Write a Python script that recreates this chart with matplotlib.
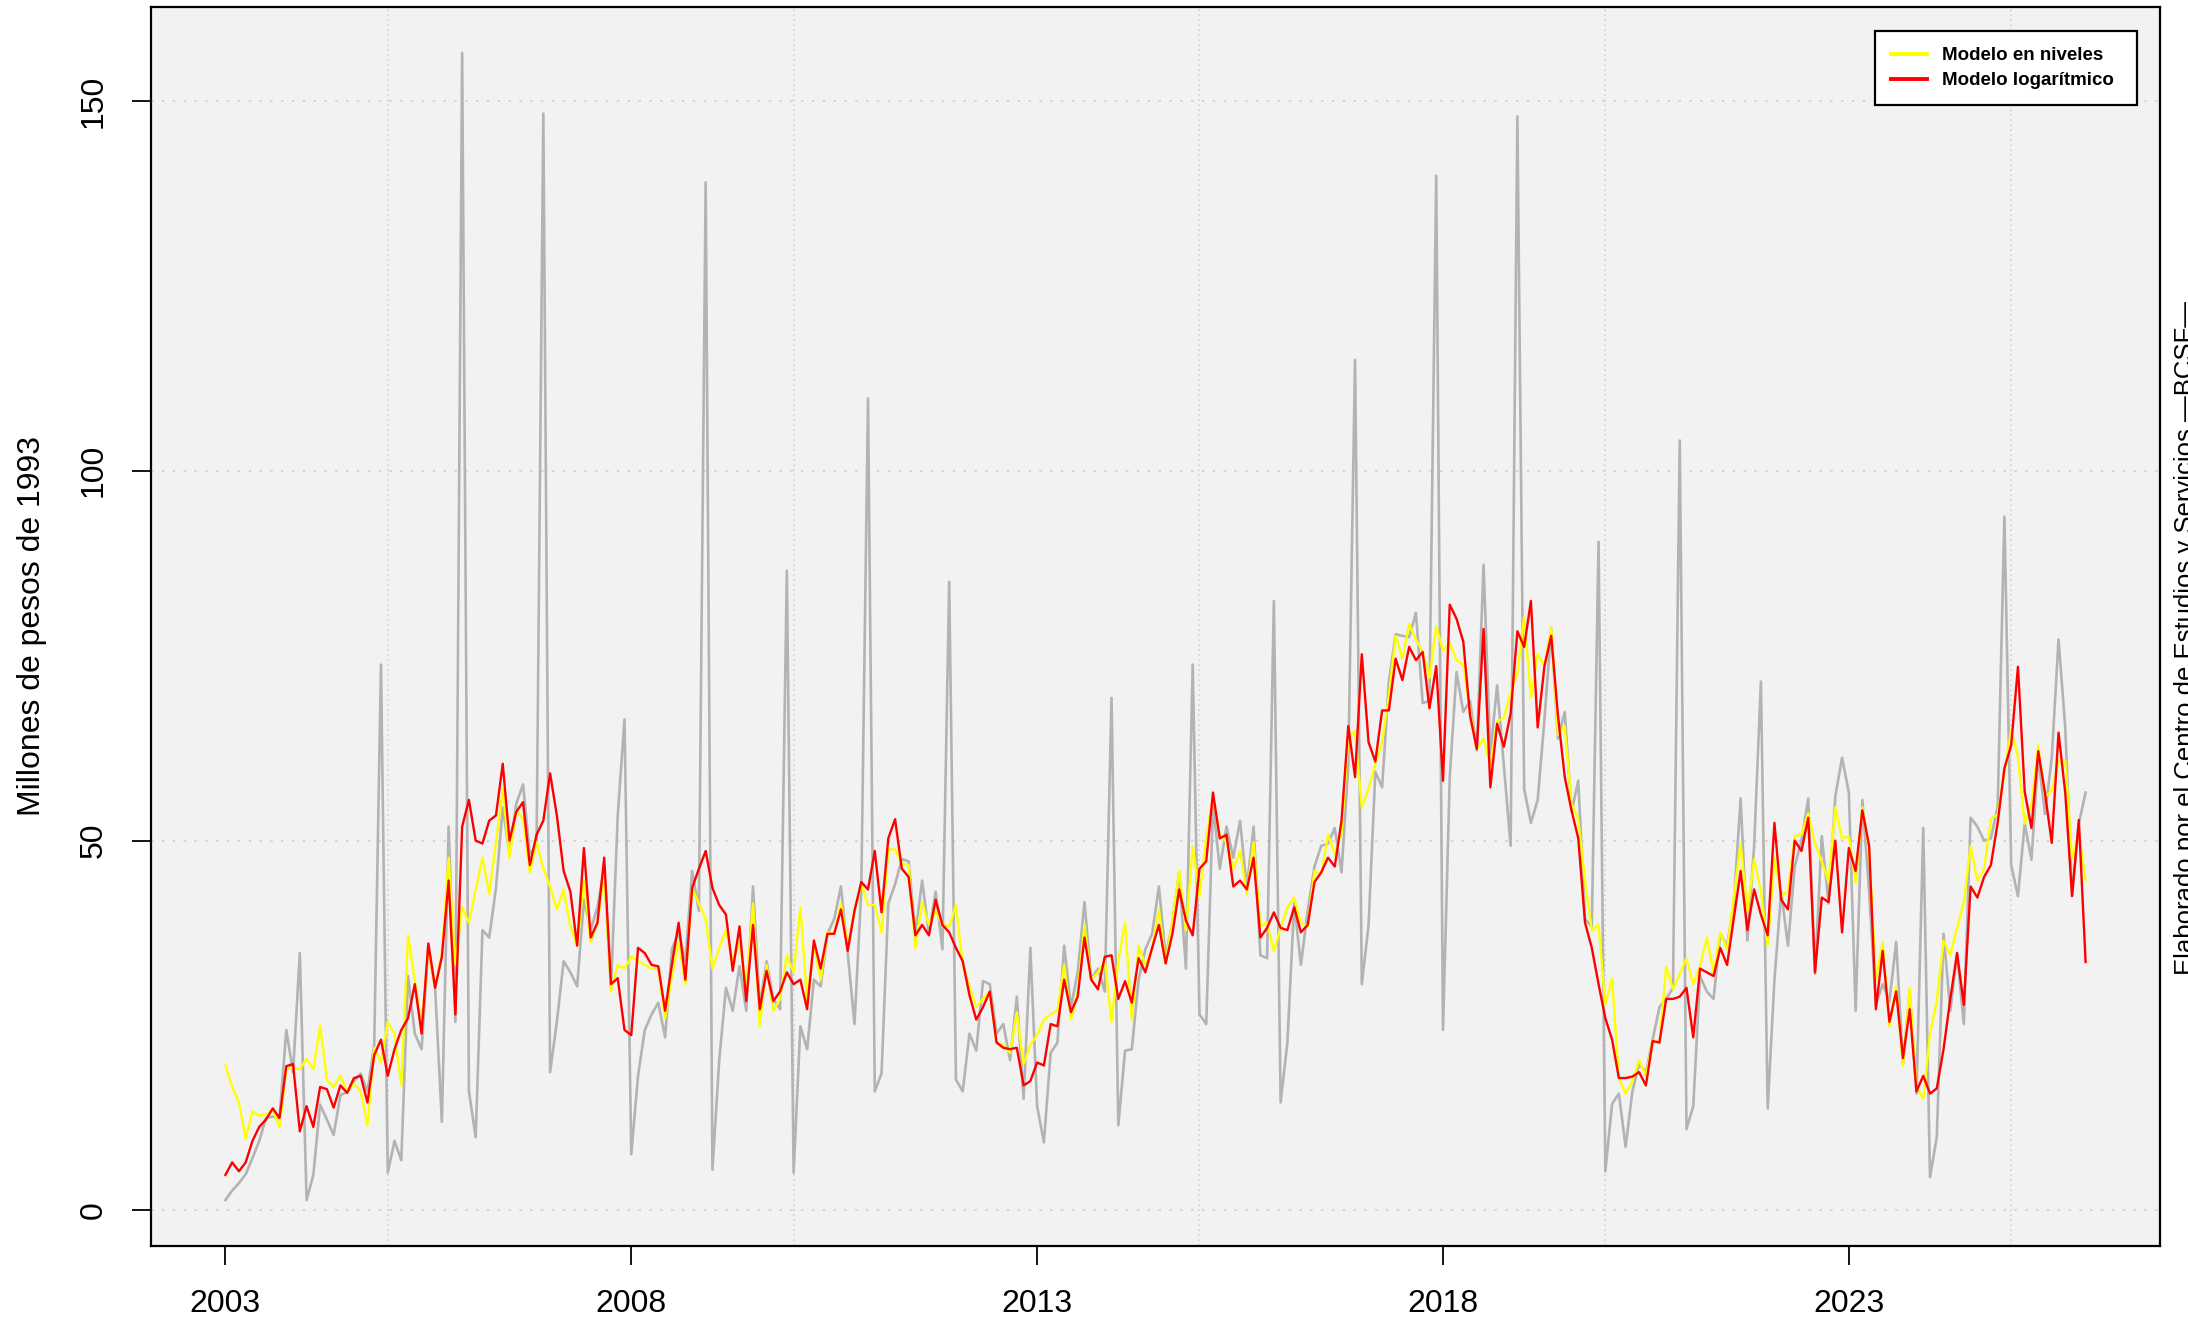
import numpy as np
import matplotlib
matplotlib.use("Agg")
import matplotlib.pyplot as plt

# ---------------- data (monthly, starting January 2003) ----------------
start_year = 2003

observado = [
    1.4, 2.7, 3.7, 4.9, 7.1, 9.4, 12.5, 12.7, 12.5, 24.4, 18.7, 34.8,
    1.4, 4.8, 14.3, 12.3, 10.2, 15.6, 16.0, 17.5, 18.5, 16.1, 22.4, 73.8,
    5.1, 9.4, 6.8, 31.7, 23.9, 21.8, 35.8, 30.1, 12.0, 51.9, 25.5, 156.5,
    16.1, 9.9, 37.9, 36.9, 43.6, 54.5, 48.2, 55.0, 57.6, 48.2, 49.3, 148.3,
    18.7, 25.5, 33.7, 32.2, 30.3, 42.0, 37.9, 41.0, 46.2, 30.1, 53.4, 66.4,
    7.6, 18.2, 24.4, 26.5, 28.1, 23.4, 35.3, 37.6, 33.7, 45.9, 40.5, 139.0,
    5.5, 20.3, 30.1, 27.0, 33.0, 27.0, 43.8, 27.5, 33.7, 28.6, 27.2, 86.5,
    5.1, 24.9, 21.8, 31.2, 30.3, 37.4, 39.4, 43.8, 34.8, 25.2, 43.1, 109.8,
    16.1, 18.5, 41.5, 44.1, 47.5, 47.2, 37.4, 44.6, 37.4, 43.1, 35.3, 85.0,
    17.7, 16.1, 23.9, 21.6, 31.0, 30.6, 23.9, 25.2, 20.3, 28.9, 15.1, 35.5,
    14.1, 9.2, 21.3, 22.7, 35.8, 27.5, 32.2, 41.7, 31.2, 32.7, 29.6, 69.3,
    11.5, 21.6, 21.8, 31.2, 35.3, 37.4, 43.8, 34.3, 38.9, 45.7, 32.7, 73.8,
    26.5, 25.2, 55.0, 46.2, 51.9, 47.7, 52.7, 43.6, 51.9, 34.5, 34.1, 82.4,
    14.6, 22.7, 41.5, 33.2, 40.5, 46.5, 49.3, 49.6, 51.7, 45.7, 60.1, 115.0,
    30.6, 38.6, 59.3, 57.2, 71.5, 77.9, 77.7, 77.5, 80.8, 68.6, 68.9, 139.9,
    24.4, 58.6, 72.8, 67.4, 68.9, 62.2, 87.3, 61.7, 71.0, 60.1, 49.3, 147.9,
    57.0, 52.4, 55.5, 66.4, 78.8, 63.8, 67.4, 53.9, 58.1, 39.4, 38.4, 90.4,
    5.3, 14.4, 15.8, 8.6, 16.1, 19.8, 18.7, 23.1, 27.5, 28.6, 30.1, 104.1,
    11.0, 14.1, 31.7, 29.6, 28.6, 37.4, 35.8, 41.5, 55.7, 36.5, 49.3, 71.5,
    13.8, 31.2, 43.1, 35.8, 46.5, 50.0, 55.7, 32.0, 50.6, 41.5, 56.0, 61.2,
    56.5, 27.0, 55.5, 43.1, 27.8, 30.6, 28.3, 36.3, 19.8, 29.6, 15.8, 51.7,
    4.5, 9.9, 37.4, 27.0, 34.8, 25.2, 53.1, 51.9, 50.0, 50.3, 54.6, 93.8,
    46.7, 42.5, 52.3, 47.4, 61.4, 53.6, 61.2, 77.2, 65.2, 42.6, 52.3, 56.5,
]

modelo_niveles = [
    19.6, 16.7, 14.6, 9.7, 13.4, 12.8, 13.0, 13.6, 11.3, 19.1, 19.3, 19.1,
    20.5, 19.1, 25.0, 17.7, 16.7, 18.2, 16.1, 17.2, 16.1, 11.5, 22.0, 20.0,
    25.5, 23.9, 16.9, 37.2, 31.1, 24.8, 35.3, 30.1, 34.7, 47.7, 33.3, 41.0,
    38.9, 43.4, 47.7, 42.8, 49.8, 57.0, 47.7, 54.1, 52.9, 45.7, 49.8, 46.2,
    43.8, 40.7, 43.4, 38.4, 35.8, 44.6, 36.3, 38.9, 45.7, 29.6, 33.2, 32.7,
    34.3, 33.7, 33.2, 32.7, 32.7, 26.0, 31.7, 36.3, 30.6, 43.6, 41.5, 39.4,
    32.7, 35.5, 37.9, 33.7, 36.3, 30.1, 41.5, 24.9, 33.2, 27.0, 28.6, 34.5,
    32.2, 41.0, 28.3, 35.8, 31.2, 37.6, 37.4, 41.5, 35.8, 40.5, 44.1, 41.3,
    41.3, 37.6, 48.8, 48.8, 46.9, 46.7, 35.5, 41.7, 38.6, 40.5, 38.6, 38.4,
    41.3, 33.2, 30.3, 27.5, 28.6, 29.6, 22.7, 22.4, 21.3, 26.8, 19.8, 22.4,
    23.7, 25.8, 26.5, 27.0, 33.2, 25.8, 29.6, 38.6, 31.2, 32.2, 33.7, 25.5,
    33.7, 38.9, 25.8, 35.8, 33.2, 35.3, 40.7, 33.4, 39.2, 45.9, 37.9, 49.3,
    42.5, 50.3, 56.0, 50.8, 49.8, 46.2, 48.6, 42.8, 49.8, 38.4, 38.9, 35.1,
    38.2, 41.0, 42.3, 38.9, 38.4, 45.9, 45.4, 50.8, 48.2, 51.0, 63.8, 64.8,
    54.5, 57.0, 60.4, 63.3, 69.5, 77.7, 74.6, 79.3, 77.2, 75.5, 72.0, 79.0,
    75.7, 76.7, 74.4, 73.8, 67.4, 62.4, 63.8, 60.1, 66.1, 66.6, 70.0, 72.6,
    80.3, 69.3, 75.2, 73.6, 78.8, 64.3, 65.5, 55.0, 52.9, 44.6, 37.9, 38.6,
    27.8, 31.4, 17.9, 15.8, 17.5, 20.3, 18.2, 22.9, 22.7, 33.0, 29.9, 32.0,
    34.1, 30.6, 33.0, 36.9, 32.2, 37.6, 35.3, 42.5, 49.6, 40.5, 47.5, 43.1,
    35.8, 47.7, 42.5, 43.1, 50.6, 50.8, 53.7, 49.6, 47.2, 44.4, 54.5, 50.3,
    50.6, 44.4, 54.5, 48.8, 31.2, 36.3, 24.9, 30.3, 19.6, 30.1, 16.7, 15.1,
    23.9, 28.3, 36.5, 34.5, 38.2, 41.7, 49.3, 44.6, 46.2, 52.9, 53.5, 59.1,
    65.0, 61.4, 52.3, 54.8, 62.9, 55.9, 56.8, 60.7, 60.9, 47.6, 50.8, 44.7,
]

modelo_log = [
    4.8, 6.5, 5.3, 6.5, 9.4, 11.3, 12.3, 13.8, 12.5, 19.5, 19.8, 10.7,
    14.1, 11.3, 16.7, 16.4, 13.9, 16.9, 15.9, 17.9, 18.2, 14.6, 21.0, 23.1,
    18.2, 21.8, 24.4, 26.0, 30.6, 23.9, 36.1, 30.1, 34.3, 44.6, 26.5, 51.9,
    55.5, 50.0, 49.6, 52.7, 53.4, 60.4, 50.0, 53.9, 55.2, 46.7, 50.8, 52.7,
    59.1, 53.4, 45.9, 43.1, 35.8, 49.0, 36.9, 38.9, 47.7, 30.6, 31.4, 24.4,
    23.7, 35.5, 34.8, 33.2, 33.0, 27.0, 33.2, 38.9, 31.2, 43.6, 46.2, 48.6,
    43.6, 41.3, 40.0, 32.4, 38.4, 28.3, 38.6, 27.2, 32.4, 28.3, 29.6, 32.2,
    30.6, 31.2, 27.2, 36.5, 32.7, 37.4, 37.4, 40.7, 35.1, 40.5, 44.4, 43.4,
    48.6, 40.3, 50.3, 52.9, 46.2, 45.1, 37.2, 38.6, 37.2, 42.0, 38.6, 37.6,
    35.5, 33.7, 29.1, 25.8, 27.5, 29.6, 22.7, 22.0, 21.8, 22.0, 16.9, 17.5,
    20.0, 19.6, 25.2, 24.9, 31.2, 26.8, 28.9, 36.9, 31.2, 29.9, 34.3, 34.5,
    28.6, 31.0, 28.1, 34.1, 32.2, 35.5, 38.6, 33.4, 37.4, 43.4, 39.2, 37.2,
    46.2, 47.2, 56.5, 50.3, 50.8, 43.8, 44.6, 43.4, 47.7, 36.9, 38.2, 40.3,
    38.2, 37.9, 41.0, 37.6, 38.6, 44.4, 45.7, 47.7, 46.5, 52.7, 65.5, 58.6,
    75.2, 63.3, 60.7, 67.6, 67.6, 74.6, 71.7, 76.2, 74.4, 75.5, 67.9, 73.6,
    58.1, 81.9, 80.0, 76.9, 66.9, 62.4, 78.6, 57.2, 65.8, 62.7, 67.2, 78.3,
    76.2, 82.4, 65.3, 73.6, 77.7, 66.9, 58.6, 54.1, 50.3, 38.9, 35.5, 30.6,
    26.0, 23.1, 17.9, 17.9, 18.1, 18.7, 16.9, 22.9, 22.7, 28.6, 28.6, 28.9,
    30.1, 23.4, 32.7, 32.2, 31.7, 35.5, 33.2, 39.6, 45.9, 37.9, 43.4, 40.0,
    37.2, 52.4, 42.0, 40.7, 50.0, 48.6, 53.1, 32.2, 42.3, 41.7, 50.0, 37.6,
    49.0, 45.9, 54.1, 49.3, 27.2, 35.1, 25.5, 29.6, 20.6, 27.2, 16.1, 18.2,
    15.8, 16.5, 21.8, 28.6, 34.8, 27.8, 43.8, 42.3, 45.1, 46.7, 52.4, 59.8,
    62.9, 73.5, 56.6, 51.7, 62.1, 56.4, 49.7, 64.6, 56.4, 42.5, 52.8, 33.6,
]

tick_years = [2003, 2008, 2013, 2018, 2023]
grid_years = [2005, 2010, 2015, 2020, 2025]
y_ticks = [0, 50, 100, 150]
serie_labels = ["Modelo en niveles", "Modelo logarítmico"]
y_label = "Millones de pesos de 1993"
credit = "Elaborado por el Centro de Estudios y Servicios —BCSF—"

# ---------------- figure ----------------
plt.rcParams['font.family'] = ['Liberation Sans', 'DejaVu Sans']

W, H = 2188, 1324
fig = plt.figure(figsize=(W / 100, H / 100), dpi=100)
fig.patch.set_facecolor('white')

ax_l, ax_r, ax_t, ax_b = 151, 2160, 7, 1246
ax = fig.add_axes([ax_l / W, 1 - ax_b / H, (ax_r - ax_l) / W, (ax_b - ax_t) / H])
ax.set_facecolor('#F2F2F2')

n = len(observado)
t = start_year + np.arange(n) / 12.0

ax.plot(t, observado, color='#B3B3B3', lw=1.9, zorder=3)
ax.plot(t, modelo_niveles, color='#FFFF00', lw=1.7, zorder=4, label=serie_labels[0])
ax.plot(t, modelo_log, color='#FF0000', lw=1.7, zorder=5, label=serie_labels[1])

# R-like 4% axis extension
xr = t[-1] - t[0]
ax.set_xlim(t[0] - 0.04 * xr, t[-1] + 0.04 * xr)
ymin, ymax = min(observado), max(observado)
yr = ymax - ymin
ax.set_ylim(ymin - 0.04 * yr, ymax + 0.04 * yr)

# grid
for gy in y_ticks:
    ax.axhline(gy, color='#CFCFCF', lw=1.2, ls=(0, (1.5, 5)), zorder=1)
for gx in grid_years:
    ax.axvline(gx, color='#D2D2D2', lw=1.2, ls=(0, (1, 2)), zorder=1)

ax.set_xticks(tick_years)
ax.set_xticklabels([str(y) for y in tick_years])
ax.set_yticks(y_ticks)
ax.set_yticklabels([str(v) for v in y_ticks])

for s in ax.spines.values():
    s.set_linewidth(1.6)
    s.set_color('black')

ax.tick_params(axis='both', direction='out', length=13.7, width=1.3,
               labelsize=23, colors='black')
ax.tick_params(axis='x', pad=17)
ax.tick_params(axis='y', pad=17)
for lbl in ax.get_yticklabels():
    lbl.set_rotation(90)
    lbl.set_va('center')

ax.set_ylabel(y_label, fontsize=23)
ax.yaxis.set_label_coords((47 - ax_l) / (ax_r - ax_l), 0.5)

# legend box: x 1875..2137, y 31..107 (pixels, top-left origin)
lx0, lx1, ly0, ly1 = 1875, 2137, 31, 107
leg = ax.legend(loc='upper left',
                bbox_to_anchor=(lx0 / W, 1 - ly1 / H, (lx1 - lx0) / W, (ly1 - ly0) / H),
                bbox_transform=fig.transFigure, mode='expand',
                frameon=True, fancybox=False,
                framealpha=1.0, edgecolor='black', facecolor='white',
                prop={'weight': 'bold', 'size': 13.5}, handlelength=1.9,
                handletextpad=0.85, borderpad=0.85, labelspacing=0.42,
                borderaxespad=0)
leg.get_frame().set_linewidth(1.6)
for line in leg.get_lines():
    line.set_linewidth(2.8)

fig.text(2174 / W, 0.518, credit, rotation=90, ha='left', va='center',
         fontsize=18.5, color='black')

fig.savefig('out.png', dpi=100, facecolor='white')
